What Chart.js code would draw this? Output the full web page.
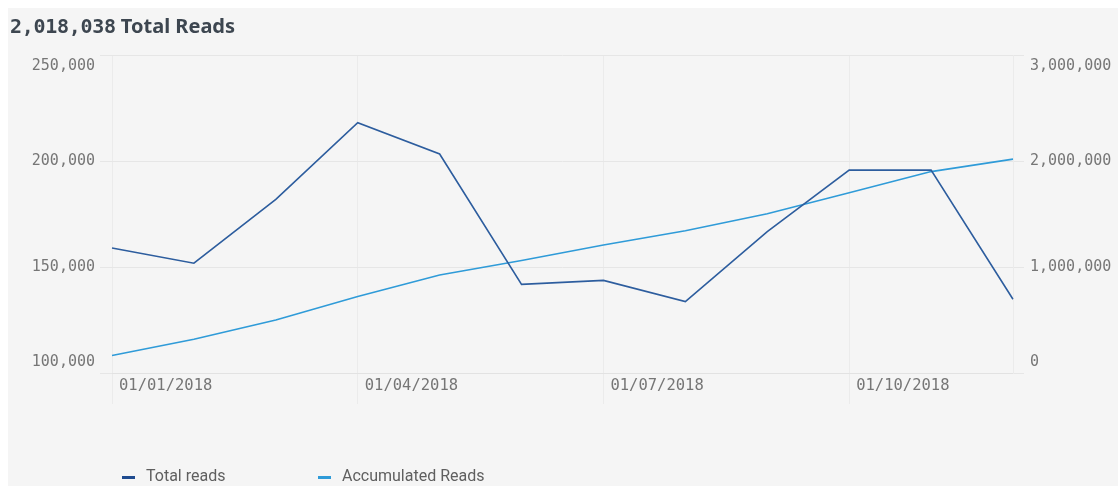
<!DOCTYPE html>
<html>
<head>
<meta charset="utf-8">
<title>Total Reads</title>
<script src="https://cdn.jsdelivr.net/npm/chart.js@4/dist/chart.umd.min.js"></script>
<style>
  html, body { margin: 0; padding: 0; background: #fff; }
  body { width: 1118px; height: 486px; position: relative; overflow: hidden; }
  .panel { position: absolute; left: 8px; top: 8px; right: 0; bottom: 0; background: #f5f5f5; }
  .title { position: absolute; left: 10px; top: 12px; font-size: 20px; font-weight: bold; color: #3d4650; white-space: nowrap; }
  .title .num { font-family: "DejaVu Sans Mono", monospace; letter-spacing: -0.3px; }
  .title .txt { font-family: "Noto Sans", sans-serif; }
  .chart-wrap { position: absolute; left: 0; top: 0; width: 1118px; height: 486px; }
  .legend { position: absolute; top: 466px; left: 122px; font-family: Roboto, sans-serif; font-size: 16px; color: #5f5f5f; }
  .legend span { position: absolute; white-space: nowrap; }
  .legend i { position: absolute; top: 10px; width: 13px; height: 3px; }
</style>
</head>
<body>
<div class="panel"></div>
<div class="chart-wrap"><canvas id="readsChart" width="1118" height="486"></canvas></div>
<div class="title"><span class="num">2,018,038</span><span class="txt"> Total Reads</span></div>
<div class="legend">
  <i style="left:0; background:#1f4b8f"></i><span style="left:24px">Total reads</span>
  <i style="left:196px; background:#2f9bd8"></i><span style="left:220px">Accumulated Reads</span>
</div>
<script>
const months = ['01/01/2018', '01/02/2018', '01/03/2018', '01/04/2018', '01/05/2018', '01/06/2018',
  '01/07/2018', '01/08/2018', '01/09/2018', '01/10/2018', '01/11/2018', '01/12/2018'];
const totalReads = [159000, 151800, 181900, 218100, 203300, 141800, 143700, 133700, 166700, 195700, 195700, 134800];
const accumulatedReads = [165000, 318000, 500000, 722000, 925000, 1062000, 1208000, 1342000, 1503000, 1700000, 1900000, 2018038];
const leftTicks = [100000, 150000, 200000, 250000];
const rightTicks = [0, 1000000, 2000000, 3000000];

const tickColor = '#767676';
const gridColor = '#e6e6e6';

// keep the first/last value labels inside the plot, like the original
const edgeLabels = {
  id: 'edgeLabels',
  beforeDraw(chart) {
    ['y', 'y1'].forEach(id => {
      const items = chart.scales[id].getLabelItems();
      if (!items.length) return;
      items[0].options.translation[1] -= 11;
      items[items.length - 1].options.translation[1] += 11;
    });
  }
};

new Chart(document.getElementById('readsChart'), {
  type: 'line',
  data: {
    labels: months,
    datasets: [
      {
        label: 'Total reads',
        data: totalReads,
        yAxisID: 'y',
        borderColor: '#2d5d9e',
        borderWidth: 1.6,
        tension: 0,
        pointRadius: 0,
        fill: false
      },
      {
        label: 'Accumulated Reads',
        data: accumulatedReads,
        yAxisID: 'y1',
        borderColor: '#2f9bd8',
        borderWidth: 1.6,
        tension: 0,
        pointRadius: 0,
        fill: false
      }
    ]
  },
  plugins: [edgeLabels],
  options: {
    responsive: false,
    animation: false,
    layout: { padding: { top: 55, bottom: 73, left: 0, right: 0 } },
    plugins: {
      legend: { display: false },
      tooltip: { enabled: false }
    },
    scales: {
      x: {
        offset: false,
        grid: { color: '#ebebeb', tickLength: 31, drawTicks: true },
        border: { color: '#e2e2e2' },
        ticks: {
          autoSkip: false,
          maxRotation: 0,
          align: 'start',
          labelOffset: 7,
          padding: -27,
          color: tickColor,
          font: { family: 'DejaVu Sans Mono', size: 15.5 },
          callback: function(value, index) {
            return index % 3 === 0 ? months[index] : null;
          }
        },
        afterFit: function(scale) { scale.height = 40; }
      },
      y: {
        position: 'left',
        min: leftTicks[0],
        max: leftTicks[leftTicks.length - 1],
        afterBuildTicks: function(scale) { scale.ticks = leftTicks.map(v => ({ value: v })); },
        grid: { color: gridColor, tickLength: 12 },
        border: { display: false },
        ticks: {
          padding: 5,
          color: tickColor,
          font: { family: 'DejaVu Sans Mono', size: 15 },
          callback: v => v.toLocaleString('en-US')
        },
        afterFit: function(scale) { scale.width = 112; }
      },
      y1: {
        position: 'right',
        min: rightTicks[0],
        max: rightTicks[rightTicks.length - 1],
        afterBuildTicks: function(scale) { scale.ticks = rightTicks.map(v => ({ value: v })); },
        grid: { color: gridColor, tickLength: 11, drawOnChartArea: false },
        border: { display: true, color: '#ebebeb' },
        ticks: {
          padding: 6,
          color: tickColor,
          font: { family: 'DejaVu Sans Mono', size: 15 },
          callback: v => v.toLocaleString('en-US')
        },
        afterFit: function(scale) { scale.width = 105; }
      }
    }
  }
});
</script>
</body>
</html>
